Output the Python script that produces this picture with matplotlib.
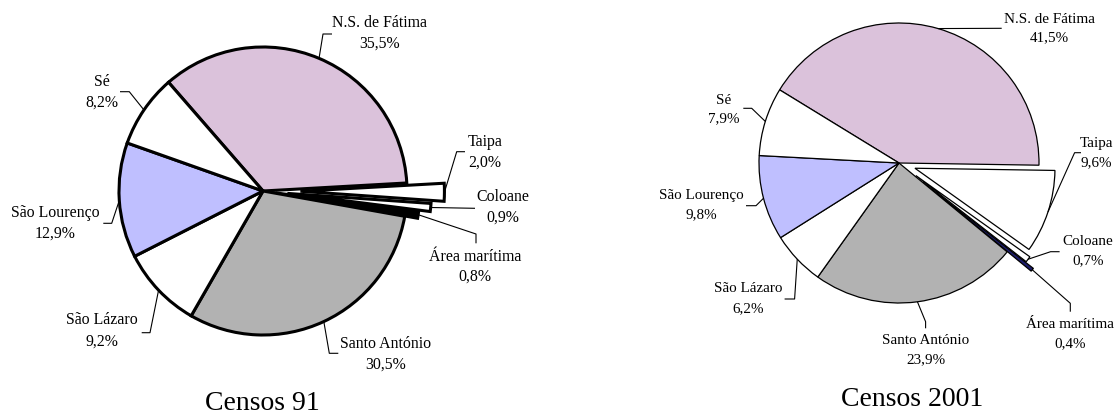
import matplotlib
matplotlib.use("Agg")
import matplotlib.pyplot as plt
import numpy as np

W, H = 1116, 416

# ---------------- data ----------------
names = ["N.S. de Fátima", "Taipa", "Coloane", "Área marítima",
         "Santo António", "São Lázaro", "São Lourenço", "Sé"]
censos91 = [35.5, 2.0, 0.9, 0.8, 30.5, 9.2, 12.9, 8.2]
censos2001 = [41.5, 9.6, 0.7, 0.4, 23.9, 6.2, 9.8, 7.9]
titles = ["Censos 91", "Censos 2001"]

# ---------------- styles ----------------
colors91 = ["#DBC2DB", "white", "white", "black", "#B2B2B2", "white", "#BFBFFF", "white"]
colors01 = ["#DBC2DB", "white", "white", "#1C1C6B", "#B2B2B2", "white", "#BFBFFF", "white"]
explode91 = [0, 0.26, 0.17, 0.09, 0, 0, 0, 0]   # fraction of radius
explode01 = [0, 0.12, 0.15, 0.22, 0, 0, 0, 0]

plt.rcParams['font.family'] = ['Liberation Serif', 'DejaVu Serif']

fig = plt.figure(figsize=(W / 100, H / 100), dpi=100)
ax = fig.add_axes([0, 0, 1, 1])


def Y(y):
    return H - y


# layout: label name centre (x, y_name, y_pct) and leader elbow points (image px)
layout91 = dict(
    center=(263, 191), radius=144, start=131.0, lw=2.2, fs=11.4,
    title=(262.5, 403),
    labels=[(380, 23, 44), (485, 142, 163), (503, 197, 218), (475, 257, 277),
            (386, 344, 365), (102, 320, 342), (55, 213, 234), (102, 82, 103)],
    elbows=[[(323, 34), (332, 34)],
            [(456.7, 151.7), (465, 151.7)],
            [(475, 208.3)],
            [(476, 234), (476, 243.3)],
            [(329.3, 353.3), (338.3, 353.3)],
            [(150, 332.7), (141.7, 332.7)],
            [(111.7, 223.3), (103.3, 223.3)],
            [(129.3, 91.7), (120, 91.7)]],
)
layout01 = dict(
    center=(899, 163), radius=140, start=148.5, lw=0.9, fs=10.9,
    title=(912, 399),
    labels=[(1049, 19.5, 37.5), (1096, 143.3, 162.3), (1088, 241.7, 260.7), (1070, 325, 343.3),
            (925.6, 340.7, 360), (748.5, 288.3, 308.3), (701, 195, 215), (724, 100, 119)],
    elbows=[[(1001.7, 28.3)],
            [(1074.6, 152.7), (1081, 152.7)],
            [(1050.6, 251.7), (1059.6, 251.7)],
            [(1070.3, 303.3), (1070.3, 311.7)],
            [(925.6, 321.7), (925.6, 328.3)],
            [(794.6, 299), (784.6, 299)],
            [(756, 205.7), (746, 205.7)],
            [(751.7, 108.3), (743.3, 108.3)]],
)


def fmt(v):
    return f"{v:.1f}%".replace('.', ',')


def draw(values, colors, explode, lay, title):
    cx, cy = lay['center']
    r = lay['radius']
    wedges, _ = ax.pie(values, colors=colors,
                       explode=[e * r for e in explode],
                       startangle=lay['start'], counterclock=False,
                       center=(cx, Y(cy)), radius=r,
                       wedgeprops=dict(edgecolor='black', linewidth=lay['lw'],
                                       joinstyle='miter'),
                       frame=True)
    for w, name, v, (lx, ly1, ly2), elb in zip(wedges, names, values,
                                                lay['labels'], lay['elbows']):
        th = np.deg2rad((w.theta1 + w.theta2) / 2)
        wx, wy = w.center
        px = wx + w.r * np.cos(th)
        py = wy + w.r * np.sin(th)
        xs = [px] + [e[0] for e in elb]
        ys = [py] + [Y(e[1]) for e in elb]
        ax.plot(xs, ys, color='black', lw=0.8, solid_capstyle='butt')
        ax.text(lx, Y(ly1), name, ha='center', va='center', fontsize=lay['fs'])
        ax.text(lx, Y(ly2), fmt(v), ha='center', va='center', fontsize=lay['fs'])
    tx, ty = lay['title']
    ax.text(tx, Y(ty), title, ha='center', va='center', fontsize=20)


draw(censos91, colors91, explode91, layout91, titles[0])
draw(censos2001, colors01, explode01, layout01, titles[1])

ax.set_xlim(0, W)
ax.set_ylim(0, H)
ax.set_aspect('equal', adjustable='box')
ax.set_axis_off()

fig.savefig("out.png", dpi=100)
